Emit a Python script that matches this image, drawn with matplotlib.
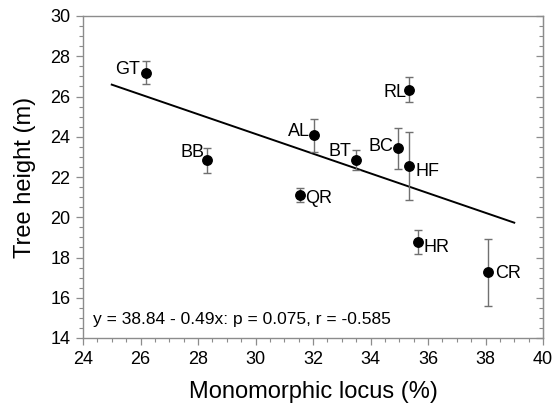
import matplotlib
matplotlib.use("Agg")
import matplotlib.pyplot as plt
import numpy as np
from matplotlib.ticker import MultipleLocator

plt.rcParams['font.family'] = ['Liberation Sans', 'DejaVu Sans']

sites = ["GT", "RL", "AL", "BB", "BT", "BC", "HF", "QR", "HR", "CR"]
mono = [26.2, 35.35, 32.05, 28.3, 33.5, 34.95, 35.35, 31.55, 35.65, 38.1]
height = [27.18, 26.33, 24.07, 22.84, 22.85, 23.43, 22.56, 21.11, 18.75, 17.26]
err = [0.56, 0.62, 0.83, 0.62, 0.50, 1.01, 1.70, 0.33, 0.60, 1.65]
# label offsets (pixels) and alignment
lab_dx = [-6, -3, -4, -2, -5, -4, 6, 5, 6, 7]
lab_dy = [3, -3, 4, 8, 8, 2, -6, -4, -5, -1]
lab_ha = ["right", "right", "right", "right", "right", "right", "left", "left", "left", "left"]

intercept = 38.84
slope = -0.49
fit_x = [25, 39]
eq_text = "y = 38.84 - 0.49x: p = 0.075, r = -0.585"

fig = plt.figure(figsize=(5.59, 4.13), dpi=100)
ax = fig.add_axes([83/559, 75/413, 460/559, 322/413])

gray = "#8c8c8c"
fx = np.array(fit_x)
ax.plot(fx, intercept + slope * fx, color="black", lw=1.4, zorder=2)
ax.errorbar(mono, height, yerr=err, fmt="none", ecolor="#707070", elinewidth=1.0,
            capsize=3, capthick=1.0, zorder=3)
ax.plot(mono, height, "o", color="black", ms=6.8, zorder=4)

for s, x, y, dx, dy, ha in zip(sites, mono, height, lab_dx, lab_dy, lab_ha):
    ax.annotate(s, (x, y), xytext=(dx, dy), textcoords="offset pixels",
                ha=ha, va="center", fontsize=13)

ax.text(0.0224, 0.056, eq_text, transform=ax.transAxes, fontsize=12.5,
        ha="left", va="center")

ax.set_xlim(24, 40)
ax.set_ylim(14, 30)
ax.xaxis.set_major_locator(MultipleLocator(2))
ax.xaxis.set_minor_locator(MultipleLocator(0.5))
ax.yaxis.set_major_locator(MultipleLocator(2))
ax.yaxis.set_minor_locator(MultipleLocator(0.5))

for sp in ax.spines.values():
    sp.set_color(gray)
    sp.set_linewidth(1.0)

ax.tick_params(axis="both", which="major", direction="out", length=5, width=0.9,
               color=gray, labelsize=13, pad=4)
ax.tick_params(axis="both", which="minor", direction="out", length=3, width=0.8,
               color=gray)
# right-side inward ticks
sec = ax.secondary_yaxis("right")
sec.yaxis.set_major_locator(MultipleLocator(2))
sec.yaxis.set_minor_locator(MultipleLocator(0.5))
sec.tick_params(which="major", direction="in", length=5, width=0.9, color=gray, labelright=False)
sec.tick_params(which="minor", direction="in", length=3, width=0.8, color=gray)
sec.spines["right"].set_color(gray)

ax.set_xlabel("Monomorphic locus (%)", fontsize=17, labelpad=10)
ax.set_ylabel("Tree height (m)", fontsize=17, labelpad=10)

fig.savefig("out.png", dpi=100)
